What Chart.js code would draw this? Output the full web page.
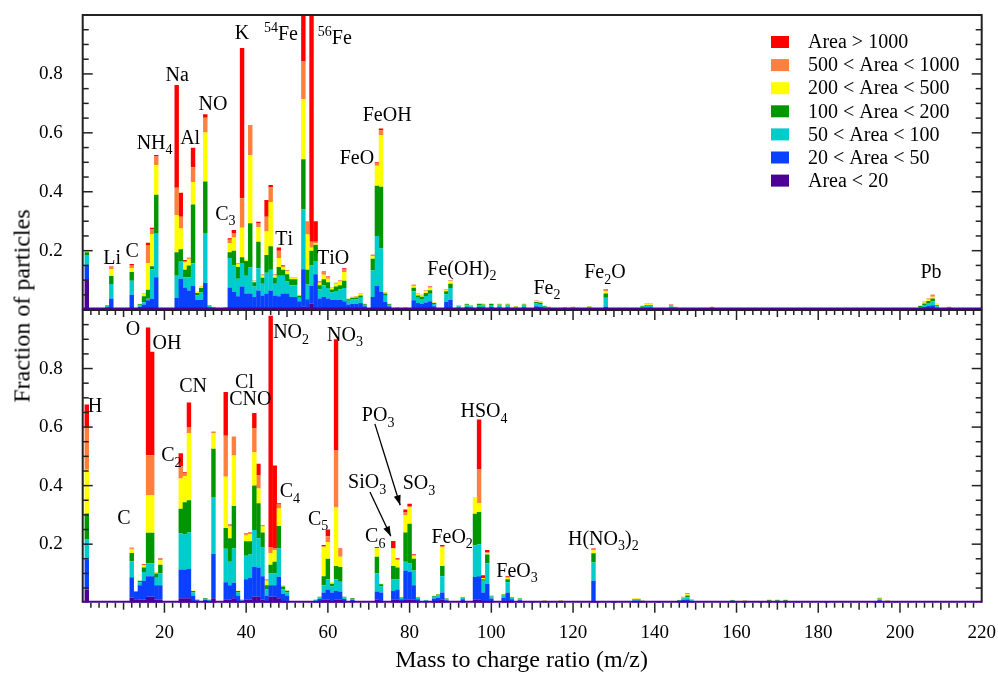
<!DOCTYPE html>
<html>
<head>
<meta charset="utf-8">
<script src="https://cdn.jsdelivr.net/npm/chart.js@4.4.1/dist/chart.umd.min.js"></script>
<style>
  html, body { margin: 0; padding: 0; background: #fff; }
  #wrap { position: relative; width: 998px; height: 674px; overflow: hidden; }
  #posChart { position: absolute; left: 0; top: 0; }
  #negChart { position: absolute; left: 0; top: 300px; }
  #yTitle {
    position: absolute; left: 22px; top: 306px;
    transform: translate(-50%, -50%) rotate(-90deg);
    font: 24px "Liberation Serif", "Times New Roman", serif;
    white-space: nowrap; color: #000;
  }
</style>
</head>
<body>
<div id="wrap">
  <canvas id="posChart" width="998" height="312"></canvas>
  <canvas id="negChart" width="998" height="374"></canvas>
  <div id="yTitle">Fraction of particles</div>
</div>
<script>
// Size bins (stack order, bottom to top)
const areaBins = ['Area < 20', '20 < Area < 50', '50 < Area < 100', '100 < Area < 200',
                  '200 < Area < 500', '500 < Area < 1000', 'Area > 1000'];

// Axis ticks
const massTicks = [20, 40, 60, 80, 100, 120, 140, 160, 180, 200, 220];
const fractionTicks = [0.2, 0.4, 0.6, 0.8];

// Positive ions: [m/z, fraction per bin from Area<20 up to Area>1000]
const positiveIons = [
  [1, 0.100, 0.050, 0.035, 0.010, 0.005, 0.002, 0.000],
  [6, 0.000, 0.008, 0.005, 0.002, 0.001, 0.000, 0.000],
  [7, 0.005, 0.033, 0.049, 0.027, 0.023, 0.006, 0.003],
  [12, 0.004, 0.046, 0.048, 0.030, 0.013, 0.010, 0.004],
  [14, 0.000, 0.010, 0.005, 0.003, 0.002, 0.000, 0.000],
  [15, 0.002, 0.015, 0.008, 0.020, 0.008, 0.002, 0.000],
  [16, 0.002, 0.030, 0.005, 0.030, 0.090, 0.062, 0.008],
  [17, 0.002, 0.035, 0.100, 0.010, 0.110, 0.015, 0.006],
  [18, 0.005, 0.105, 0.150, 0.130, 0.100, 0.030, 0.005],
  [23, 0.005, 0.035, 0.075, 0.080, 0.125, 0.094, 0.348],
  [24, 0.005, 0.100, 0.060, 0.040, 0.070, 0.040, 0.082],
  [25, 0.005, 0.070, 0.035, 0.025, 0.025, 0.005, 0.003],
  [26, 0.005, 0.060, 0.045, 0.040, 0.020, 0.004, 0.002],
  [27, 0.005, 0.075, 0.077, 0.200, 0.076, 0.050, 0.066],
  [28, 0.003, 0.030, 0.015, 0.008, 0.004, 0.001, 0.000],
  [29, 0.003, 0.030, 0.025, 0.015, 0.005, 0.002, 0.000],
  [30, 0.005, 0.085, 0.170, 0.175, 0.166, 0.050, 0.012],
  [31, 0.000, 0.008, 0.004, 0.002, 0.001, 0.000, 0.000],
  [32, 0.000, 0.005, 0.003, 0.001, 0.001, 0.000, 0.000],
  [35, 0.000, 0.004, 0.002, 0.001, 0.001, 0.000, 0.000],
  [36, 0.005, 0.070, 0.100, 0.020, 0.030, 0.012, 0.005],
  [37, 0.005, 0.055, 0.090, 0.050, 0.045, 0.015, 0.010],
  [38, 0.005, 0.040, 0.060, 0.040, 0.010, 0.002, 0.000],
  [39, 0.005, 0.073, 0.080, 0.020, 0.100, 0.100, 0.510],
  [40, 0.005, 0.050, 0.060, 0.050, 0.005, 0.000, 0.000],
  [41, 0.005, 0.050, 0.088, 0.150, 0.232, 0.100, 0.002],
  [42, 0.003, 0.040, 0.035, 0.015, 0.005, 0.002, 0.000],
  [43, 0.005, 0.060, 0.075, 0.090, 0.050, 0.012, 0.006],
  [44, 0.003, 0.045, 0.040, 0.020, 0.008, 0.003, 0.001],
  [45, 0.005, 0.050, 0.070, 0.060, 0.080, 0.050, 0.057],
  [46, 0.005, 0.060, 0.070, 0.080, 0.150, 0.050, 0.008],
  [47, 0.003, 0.045, 0.040, 0.020, 0.008, 0.003, 0.001],
  [48, 0.005, 0.040, 0.070, 0.030, 0.030, 0.025, 0.011],
  [49, 0.005, 0.050, 0.060, 0.020, 0.010, 0.004, 0.002],
  [50, 0.005, 0.050, 0.040, 0.025, 0.010, 0.003, 0.001],
  [51, 0.003, 0.040, 0.040, 0.020, 0.005, 0.002, 0.000],
  [52, 0.003, 0.040, 0.040, 0.020, 0.005, 0.002, 0.000],
  [53, 0.003, 0.025, 0.012, 0.007, 0.003, 0.000, 0.000],
  [54, 0.010, 0.127, 0.203, 0.170, 0.204, 0.128, 0.160],
  [55, 0.005, 0.030, 0.050, 0.050, 0.120, 0.045, 0.000],
  [56, 0.020, 0.060, 0.070, 0.050, 0.010, 0.020, 0.770],
  [57, 0.005, 0.115, 0.045, 0.055, 0.005, 0.005, 0.070],
  [58, 0.003, 0.035, 0.030, 0.015, 0.008, 0.003, 0.001],
  [59, 0.003, 0.040, 0.040, 0.020, 0.015, 0.008, 0.003],
  [60, 0.003, 0.035, 0.035, 0.020, 0.012, 0.005, 0.002],
  [61, 0.003, 0.030, 0.025, 0.010, 0.006, 0.002, 0.000],
  [62, 0.003, 0.030, 0.030, 0.015, 0.010, 0.003, 0.000],
  [63, 0.003, 0.030, 0.035, 0.015, 0.012, 0.004, 0.001],
  [64, 0.003, 0.025, 0.045, 0.025, 0.030, 0.008, 0.004],
  [65, 0.002, 0.015, 0.013, 0.005, 0.002, 0.001, 0.000],
  [66, 0.002, 0.017, 0.015, 0.006, 0.003, 0.001, 0.000],
  [67, 0.002, 0.018, 0.015, 0.006, 0.003, 0.002, 0.000],
  [68, 0.002, 0.020, 0.018, 0.008, 0.005, 0.002, 0.000],
  [69, 0.001, 0.010, 0.005, 0.002, 0.001, 0.001, 0.000],
  [71, 0.003, 0.040, 0.090, 0.040, 0.008, 0.004, 0.001],
  [72, 0.005, 0.075, 0.170, 0.170, 0.068, 0.008, 0.004],
  [73, 0.005, 0.055, 0.147, 0.210, 0.175, 0.017, 0.006],
  [74, 0.002, 0.025, 0.020, 0.008, 0.003, 0.001, 0.001],
  [75, 0.001, 0.010, 0.005, 0.002, 0.001, 0.001, 0.000],
  [77, 0.000, 0.003, 0.002, 0.001, 0.000, 0.000, 0.000],
  [79, 0.000, 0.003, 0.002, 0.001, 0.000, 0.000, 0.000],
  [81, 0.002, 0.030, 0.030, 0.012, 0.006, 0.003, 0.001],
  [82, 0.002, 0.020, 0.018, 0.008, 0.005, 0.002, 0.000],
  [83, 0.002, 0.018, 0.016, 0.008, 0.004, 0.002, 0.000],
  [84, 0.002, 0.022, 0.022, 0.010, 0.006, 0.002, 0.001],
  [85, 0.002, 0.026, 0.026, 0.012, 0.008, 0.003, 0.001],
  [86, 0.001, 0.010, 0.008, 0.003, 0.002, 0.001, 0.000],
  [89, 0.002, 0.025, 0.025, 0.010, 0.005, 0.002, 0.001],
  [90, 0.003, 0.030, 0.040, 0.015, 0.008, 0.003, 0.001],
  [92, 0.001, 0.006, 0.004, 0.002, 0.001, 0.001, 0.000],
  [94, 0.001, 0.008, 0.006, 0.003, 0.001, 0.001, 0.000],
  [95, 0.001, 0.006, 0.004, 0.002, 0.001, 0.001, 0.000],
  [97, 0.001, 0.008, 0.007, 0.003, 0.002, 0.001, 0.000],
  [98, 0.001, 0.007, 0.006, 0.003, 0.002, 0.001, 0.000],
  [100, 0.001, 0.008, 0.007, 0.003, 0.002, 0.001, 0.000],
  [102, 0.001, 0.007, 0.006, 0.003, 0.002, 0.001, 0.000],
  [104, 0.001, 0.007, 0.006, 0.003, 0.002, 0.001, 0.000],
  [106, 0.000, 0.004, 0.004, 0.002, 0.001, 0.001, 0.000],
  [108, 0.001, 0.007, 0.006, 0.003, 0.002, 0.001, 0.000],
  [111, 0.001, 0.010, 0.010, 0.005, 0.002, 0.001, 0.001],
  [112, 0.001, 0.009, 0.009, 0.004, 0.002, 0.001, 0.001],
  [113, 0.000, 0.005, 0.005, 0.002, 0.002, 0.001, 0.000],
  [114, 0.000, 0.004, 0.003, 0.001, 0.001, 0.001, 0.000],
  [118, 0.000, 0.003, 0.003, 0.001, 0.001, 0.000, 0.000],
  [120, 0.000, 0.004, 0.003, 0.001, 0.001, 0.001, 0.000],
  [124, 0.000, 0.004, 0.004, 0.002, 0.001, 0.001, 0.000],
  [128, 0.002, 0.008, 0.030, 0.015, 0.008, 0.005, 0.002],
  [131, 0.000, 0.002, 0.002, 0.001, 0.000, 0.000, 0.000],
  [137, 0.000, 0.005, 0.005, 0.002, 0.002, 0.001, 0.000],
  [138, 0.001, 0.006, 0.006, 0.003, 0.002, 0.001, 0.001],
  [139, 0.001, 0.006, 0.006, 0.003, 0.002, 0.001, 0.001],
  [144, 0.000, 0.005, 0.006, 0.003, 0.002, 0.001, 0.001],
  [145, 0.000, 0.003, 0.003, 0.002, 0.001, 0.001, 0.000],
  [154, 0.000, 0.003, 0.003, 0.002, 0.001, 0.001, 0.000],
  [160, 0.000, 0.002, 0.001, 0.001, 0.001, 0.000, 0.000],
  [166, 0.000, 0.002, 0.001, 0.001, 0.001, 0.000, 0.000],
  [178, 0.000, 0.002, 0.001, 0.001, 0.001, 0.000, 0.000],
  [186, 0.000, 0.001, 0.001, 0.001, 0.001, 0.000, 0.000],
  [195, 0.000, 0.001, 0.001, 0.001, 0.001, 0.000, 0.000],
  [205, 0.000, 0.005, 0.004, 0.003, 0.002, 0.001, 0.000],
  [206, 0.001, 0.008, 0.007, 0.005, 0.003, 0.002, 0.001],
  [207, 0.001, 0.011, 0.010, 0.007, 0.005, 0.003, 0.001],
  [208, 0.002, 0.013, 0.013, 0.010, 0.006, 0.004, 0.002],
  [209, 0.000, 0.006, 0.005, 0.004, 0.003, 0.002, 0.000],
  [212, 0.000, 0.003, 0.003, 0.002, 0.001, 0.001, 0.000]
];

// Negative ions: [m/z, fraction per bin from Area<20 up to Area>1000]
const negativeIons = [
  [1, 0.045, 0.103, 0.068, 0.089, 0.149, 0.146, 0.077],
  [12, 0.017, 0.070, 0.055, 0.028, 0.012, 0.004, 0.002],
  [13, 0.012, 0.025, 0.003, 0.000, 0.000, 0.000, 0.000],
  [14, 0.010, 0.050, 0.010, 0.005, 0.000, 0.000, 0.000],
  [15, 0.010, 0.065, 0.030, 0.015, 0.008, 0.002, 0.002],
  [16, 0.020, 0.070, 0.045, 0.104, 0.129, 0.136, 0.436],
  [17, 0.020, 0.070, 0.045, 0.104, 0.129, 0.136, 0.353],
  [18, 0.010, 0.050, 0.025, 0.015, 0.003, 0.001, 0.001],
  [19, 0.010, 0.050, 0.040, 0.030, 0.015, 0.004, 0.002],
  [24, 0.015, 0.098, 0.123, 0.085, 0.103, 0.041, 0.046],
  [25, 0.015, 0.098, 0.120, 0.110, 0.090, 0.010, 0.003],
  [26, 0.015, 0.100, 0.125, 0.110, 0.230, 0.020, 0.084],
  [27, 0.005, 0.020, 0.010, 0.005, 0.002, 0.000, 0.000],
  [28, 0.002, 0.006, 0.002, 0.001, 0.000, 0.000, 0.000],
  [30, 0.002, 0.007, 0.004, 0.002, 0.000, 0.000, 0.000],
  [31, 0.001, 0.005, 0.003, 0.001, 0.000, 0.000, 0.000],
  [32, 0.015, 0.151, 0.195, 0.165, 0.053, 0.006, 0.000],
  [35, 0.010, 0.060, 0.114, 0.071, 0.175, 0.140, 0.150],
  [36, 0.010, 0.050, 0.080, 0.080, 0.040, 0.004, 0.003],
  [37, 0.015, 0.053, 0.117, 0.145, 0.173, 0.065, 0.000],
  [38, 0.005, 0.020, 0.010, 0.005, 0.002, 0.000, 0.000],
  [39, 0.002, 0.005, 0.002, 0.001, 0.000, 0.000, 0.000],
  [40, 0.010, 0.070, 0.080, 0.050, 0.020, 0.004, 0.002],
  [41, 0.010, 0.075, 0.080, 0.045, 0.025, 0.003, 0.002],
  [42, 0.020, 0.103, 0.125, 0.152, 0.114, 0.083, 0.051],
  [43, 0.020, 0.100, 0.100, 0.120, 0.050, 0.045, 0.040],
  [44, 0.010, 0.080, 0.100, 0.050, 0.020, 0.003, 0.002],
  [45, 0.005, 0.020, 0.020, 0.015, 0.015, 0.005, 0.000],
  [46, 0.020, 0.040, 0.040, 0.030, 0.040, 0.020, 0.790],
  [47, 0.020, 0.040, 0.040, 0.040, 0.040, 0.005, 0.284],
  [48, 0.015, 0.074, 0.097, 0.076, 0.060, 0.015, 0.003],
  [49, 0.005, 0.025, 0.015, 0.010, 0.004, 0.001, 0.000],
  [50, 0.005, 0.020, 0.010, 0.006, 0.002, 0.000, 0.000],
  [57, 0.001, 0.005, 0.003, 0.001, 0.000, 0.000, 0.000],
  [58, 0.003, 0.010, 0.005, 0.002, 0.000, 0.000, 0.000],
  [59, 0.010, 0.025, 0.025, 0.030, 0.100, 0.003, 0.004],
  [60, 0.010, 0.035, 0.035, 0.070, 0.057, 0.020, 0.023],
  [61, 0.005, 0.030, 0.020, 0.010, 0.005, 0.000, 0.000],
  [62, 0.010, 0.030, 0.040, 0.045, 0.200, 0.195, 0.380],
  [63, 0.010, 0.028, 0.034, 0.050, 0.035, 0.025, 0.003],
  [64, 0.003, 0.010, 0.005, 0.002, 0.000, 0.000, 0.000],
  [66, 0.002, 0.008, 0.003, 0.002, 0.000, 0.000, 0.000],
  [72, 0.010, 0.028, 0.062, 0.057, 0.030, 0.000, 0.003],
  [73, 0.005, 0.030, 0.020, 0.008, 0.003, 0.000, 0.000],
  [76, 0.010, 0.030, 0.040, 0.045, 0.060, 0.001, 0.025],
  [77, 0.010, 0.035, 0.035, 0.040, 0.025, 0.005, 0.003],
  [78, 0.002, 0.010, 0.005, 0.002, 0.001, 0.000, 0.000],
  [79, 0.010, 0.100, 0.030, 0.100, 0.060, 0.008, 0.010],
  [80, 0.010, 0.095, 0.030, 0.135, 0.057, 0.003, 0.008],
  [81, 0.010, 0.050, 0.050, 0.040, 0.010, 0.004, 0.002],
  [82, 0.002, 0.010, 0.005, 0.002, 0.001, 0.000, 0.000],
  [84, 0.001, 0.005, 0.002, 0.001, 0.001, 0.000, 0.000],
  [86, 0.002, 0.012, 0.006, 0.003, 0.002, 0.000, 0.000],
  [87, 0.003, 0.014, 0.008, 0.003, 0.002, 0.000, 0.000],
  [88, 0.010, 0.025, 0.055, 0.035, 0.065, 0.004, 0.003],
  [89, 0.001, 0.007, 0.004, 0.002, 0.001, 0.000, 0.000],
  [93, 0.002, 0.010, 0.005, 0.002, 0.001, 0.000, 0.000],
  [96, 0.010, 0.078, 0.108, 0.108, 0.057, 0.000, 0.000],
  [97, 0.010, 0.080, 0.110, 0.110, 0.030, 0.115, 0.171],
  [98, 0.005, 0.030, 0.040, 0.005, 0.004, 0.000, 0.010],
  [99, 0.005, 0.060, 0.070, 0.030, 0.005, 0.002, 0.008],
  [100, 0.002, 0.012, 0.007, 0.003, 0.001, 0.000, 0.000],
  [103, 0.002, 0.015, 0.008, 0.003, 0.002, 0.000, 0.000],
  [104, 0.005, 0.030, 0.035, 0.010, 0.005, 0.002, 0.003],
  [105, 0.002, 0.010, 0.005, 0.002, 0.001, 0.000, 0.000],
  [107, 0.001, 0.007, 0.004, 0.002, 0.001, 0.000, 0.000],
  [110, 0.000, 0.003, 0.001, 0.001, 0.000, 0.000, 0.000],
  [113, 0.000, 0.004, 0.002, 0.001, 0.001, 0.000, 0.000],
  [117, 0.000, 0.004, 0.002, 0.001, 0.001, 0.000, 0.000],
  [125, 0.005, 0.070, 0.062, 0.032, 0.010, 0.003, 0.003],
  [126, 0.000, 0.003, 0.001, 0.001, 0.000, 0.000, 0.000],
  [130, 0.000, 0.003, 0.001, 0.001, 0.000, 0.000, 0.000],
  [135, 0.001, 0.006, 0.004, 0.002, 0.001, 0.001, 0.000],
  [136, 0.001, 0.006, 0.004, 0.002, 0.001, 0.001, 0.000],
  [137, 0.000, 0.004, 0.002, 0.001, 0.001, 0.000, 0.000],
  [141, 0.000, 0.003, 0.001, 0.001, 0.000, 0.000, 0.000],
  [146, 0.000, 0.005, 0.002, 0.002, 0.001, 0.000, 0.000],
  [147, 0.001, 0.008, 0.005, 0.003, 0.002, 0.001, 0.000],
  [148, 0.001, 0.010, 0.008, 0.006, 0.004, 0.002, 0.001],
  [149, 0.000, 0.005, 0.003, 0.002, 0.001, 0.001, 0.000],
  [159, 0.000, 0.004, 0.003, 0.002, 0.001, 0.000, 0.000],
  [162, 0.000, 0.003, 0.002, 0.002, 0.001, 0.000, 0.000],
  [166, 0.000, 0.002, 0.001, 0.001, 0.001, 0.000, 0.000],
  [168, 0.000, 0.004, 0.002, 0.002, 0.001, 0.001, 0.000],
  [170, 0.000, 0.004, 0.003, 0.002, 0.002, 0.001, 0.000],
  [172, 0.000, 0.004, 0.002, 0.002, 0.001, 0.001, 0.000],
  [175, 0.000, 0.002, 0.001, 0.001, 0.001, 0.001, 0.000],
  [182, 0.000, 0.002, 0.001, 0.001, 0.000, 0.000, 0.000],
  [194, 0.000, 0.002, 0.001, 0.001, 0.000, 0.000, 0.000],
  [195, 0.001, 0.007, 0.004, 0.002, 0.002, 0.001, 0.000],
  [197, 0.000, 0.003, 0.002, 0.001, 0.001, 0.001, 0.000],
  [199, 0.000, 0.002, 0.001, 0.001, 0.001, 0.001, 0.000]
];

// Peak names: [text, m/z, fraction] ("_" = subscript char, "^" = superscript digits)
const positiveLabels = [
  ['Li', 7.2, 0.178], ['C', 12.1, 0.2], ['NH_4', 17.6, 0.569], ['Na', 23.1, 0.797],
  ['Al', 26.3, 0.585], ['NO', 31.9, 0.701], ['C_3', 34.9, 0.328], ['K', 39.0, 0.942],
  ['^54Fe', 48.5, 0.936], ['^56Fe', 61.7, 0.923], ['Ti', 49.3, 0.243], ['TiO', 61.3, 0.178],
  ['FeO', 67.1, 0.517], ['FeOH', 74.5, 0.664], ['Fe(OH)_2', 92.8, 0.141],
  ['Fe_2', 113.6, 0.077], ['Fe_2O', 127.8, 0.128], ['Pb', 207.6, 0.128]
];
const negativeLabels = [
  ['H', 3.0, 0.673], ['C', 10.1, 0.292], ['O', 12.3, 0.936], ['OH', 20.6, 0.888],
  ['C_2', 21.7, 0.506], ['CN', 27.0, 0.744], ['Cl', 39.6, 0.755], ['CNO', 41.0, 0.697],
  ['NO_2', 51.0, 0.927], ['C_4', 50.7, 0.383], ['NO_3', 64.2, 0.918], ['C_5', 57.6, 0.289],
  ['PO_3', 72.3, 0.642], ['SiO_3', 69.6, 0.414], ['SO_3', 82.3, 0.411], ['C_6', 71.6, 0.23],
  ['FeO_2', 90.4, 0.227], ['HSO_4', 98.2, 0.656], ['FeO_3', 106.3, 0.111],
  ['H(NO_3)_2', 127.4, 0.221]
];
// Pointer arrows [from m/z, from fraction, to m/z, to fraction]
const negativeArrows = [[71.5, 0.611, 77.7, 0.333], [70.3, 0.378, 75.4, 0.227]];

// Styles
const binColors = ['#4b0096', '#0a40ff', '#00cccc', '#009600', '#ffff00', '#ff7f3f', '#ff0000'];
const serif = '"Liberation Serif", "Times New Roman", serif';

function buildDatasets(rows) {
  return areaBins.map((label, i) => ({
    label,
    data: rows.map(r => ({ x: r[0], y: r[i + 1] })),
    backgroundColor: binColors[i],
    borderWidth: 0,
    barPercentage: 1.08,
    categoryPercentage: 1
  }));
}

// Draw a formula with sub/superscripts centred on (cx, cy)
function drawFormula(ctx, str, cx, cy, size) {
  const parts = [];
  for (let i = 0; i < str.length; i++) {
    const ch = str[i];
    if (ch === '_') {
      parts.push({ t: str[++i], k: 'sub' });
    } else if (ch === '^') {
      let s = '';
      while (i + 1 < str.length && /\d/.test(str[i + 1])) s += str[++i];
      parts.push({ t: s, k: 'sup' });
    } else {
      parts.push({ t: ch, k: 'n' });
    }
  }
  const small = Math.round(size * 0.68);
  let w = 0;
  parts.forEach(p => {
    ctx.font = (p.k === 'n' ? size : small) + 'px ' + serif;
    p.w = ctx.measureText(p.t).width;
    w += p.w;
  });
  let x = cx - w / 2;
  const base = cy + size * 0.33;
  ctx.textAlign = 'left';
  ctx.textBaseline = 'alphabetic';
  parts.forEach(p => {
    ctx.font = (p.k === 'n' ? size : small) + 'px ' + serif;
    const dy = p.k === 'sub' ? size * 0.28 : p.k === 'sup' ? -size * 0.42 : 0;
    ctx.fillText(p.t, x, base + dy);
    x += p.w;
  });
}

function seg(ctx, x0, y0, x1, y1) {
  ctx.beginPath();
  ctx.moveTo(x0, y0);
  ctx.lineTo(x1, y1);
  ctx.stroke();
}

// Frame, inward ticks, peak names, arrows, legend and x title
const decorPlugin = {
  id: 'decor',
  afterDatasetsDraw(chart, args, o) {
    const { ctx, chartArea: a, scales: { x, y } } = chart;
    ctx.save();

    ctx.fillStyle = '#000';
    (o.labels || []).forEach(([txt, mz, v]) => {
      drawFormula(ctx, txt, x.getPixelForValue(mz), y.getPixelForValue(v), 20);
    });

    ctx.strokeStyle = '#000';
    ctx.lineWidth = 1.3;
    (o.arrows || []).forEach(([m0, v0, m1, v1]) => {
      const x0 = x.getPixelForValue(m0), y0 = y.getPixelForValue(v0);
      const x1 = x.getPixelForValue(m1), y1 = y.getPixelForValue(v1);
      seg(ctx, x0, y0, x1, y1);
      const ang = Math.atan2(y1 - y0, x1 - x0), L = 10, W = 3.5;
      ctx.beginPath();
      ctx.moveTo(x1, y1);
      ctx.lineTo(x1 - L * Math.cos(ang) + W * Math.sin(ang), y1 - L * Math.sin(ang) - W * Math.cos(ang));
      ctx.lineTo(x1 - L * Math.cos(ang) - W * Math.sin(ang), y1 - L * Math.sin(ang) + W * Math.cos(ang));
      ctx.closePath();
      ctx.fill();
    });

    // y ticks every 0.05, both sides, pointing inward
    ctx.strokeStyle = '#222';
    ctx.lineWidth = 1.5;
    for (let k = 1; k < 20; k++) {
      const py = y.getPixelForValue(k * 0.05);
      const len = k % 4 === 0 ? 10 : 6;
      seg(ctx, a.left, py, a.left + len, py);
      seg(ctx, a.right, py, a.right - len, py);
    }
    if (o.xTicks) {
      for (let m = 2; m < 220; m += 2) {
        const px = x.getPixelForValue(m);
        const len = m % 20 === 0 ? 10 : m % 10 === 0 ? 7 : 5;
        seg(ctx, px, a.top, px, a.top + len);
        seg(ctx, px, a.bottom, px, a.bottom + len);
      }
    }

    ctx.lineWidth = 2;
    ctx.strokeStyle = '#222';
    ctx.beginPath();
    ctx.moveTo(a.left, a.bottom);
    ctx.lineTo(a.left, a.top);
    ctx.lineTo(a.right, a.top);
    ctx.lineTo(a.right, a.bottom);
    ctx.stroke();
    ctx.strokeStyle = '#4b0096';
    seg(ctx, a.left, a.bottom - 1, a.right, a.bottom - 1);

    if (o.legend) {
      chart.data.datasets.slice().reverse().forEach((ds, i) => {
        const cy = 42 + i * 23.1;
        ctx.fillStyle = ds.backgroundColor;
        ctx.fillRect(771, cy - 6, 18, 12);
        ctx.fillStyle = '#000';
        ctx.font = '20px ' + serif;
        ctx.textAlign = 'left';
        ctx.textBaseline = 'middle';
        ctx.fillText(ds.label, 808, cy + 1);
      });
    }

    if (o.xTitle) {
      ctx.fillStyle = '#000';
      ctx.font = '24px ' + serif;
      ctx.textAlign = 'center';
      ctx.textBaseline = 'middle';
      ctx.fillText(o.xTitle, x.getPixelForValue(107.4), a.bottom + 58);
    }
    ctx.restore();
  }
};

function makePanel(canvasId, rows, cfg) {
  return new Chart(document.getElementById(canvasId), {
    type: 'bar',
    data: { datasets: buildDatasets(rows) },
    options: {
      responsive: false,
      animation: false,
      layout: { padding: { left: 0, right: 16.3, top: cfg.padTop, bottom: cfg.padBottom } },
      plugins: {
        legend: { display: false },
        tooltip: { enabled: false },
        decor: { labels: cfg.labels, arrows: cfg.arrows, legend: cfg.legend,
                 xTicks: cfg.xTicks, xTitle: cfg.xTitle }
      },
      scales: {
        x: {
          type: 'linear', min: 0, max: 220, stacked: true, offset: false,
          display: cfg.showX,
          afterBuildTicks: s => { s.ticks = massTicks.map(v => ({ value: v })); },
          afterFit: s => {
            s.height = cfg.showX ? 71.3 : 0;
            s.paddingLeft = 0; s.paddingRight = 0;
          },
          grid: { display: false, drawTicks: false, offset: false },
          border: { display: false },
          ticks: { autoSkip: false, maxRotation: 0, padding: 19, color: '#000',
                   font: { family: serif, size: 19 } }
        },
        y: {
          min: 0, max: 1, stacked: true,
          afterBuildTicks: s => { s.ticks = fractionTicks.map(v => ({ value: v })); },
          afterFit: s => {
            s.width = 82.7;
            s.paddingTop = 0; s.paddingBottom = 0;
          },
          grid: { display: false, drawTicks: false },
          border: { display: false },
          ticks: { padding: 20, color: '#000', font: { family: serif, size: 19 },
                   callback: v => v.toFixed(1) }
        }
      }
    },
    plugins: [decorPlugin]
  });
}

makePanel('posChart', positiveIons, {
  padTop: 15, padBottom: 2.4, showX: false, xTicks: false, legend: true,
  labels: positiveLabels, arrows: [], xTitle: null
});
makePanel('negChart', negativeIons, {
  padTop: 10, padBottom: 0, showX: true, xTicks: true, legend: false,
  labels: negativeLabels, arrows: negativeArrows, xTitle: 'Mass to charge ratio (m/z)'
});
</script>
</body>
</html>
